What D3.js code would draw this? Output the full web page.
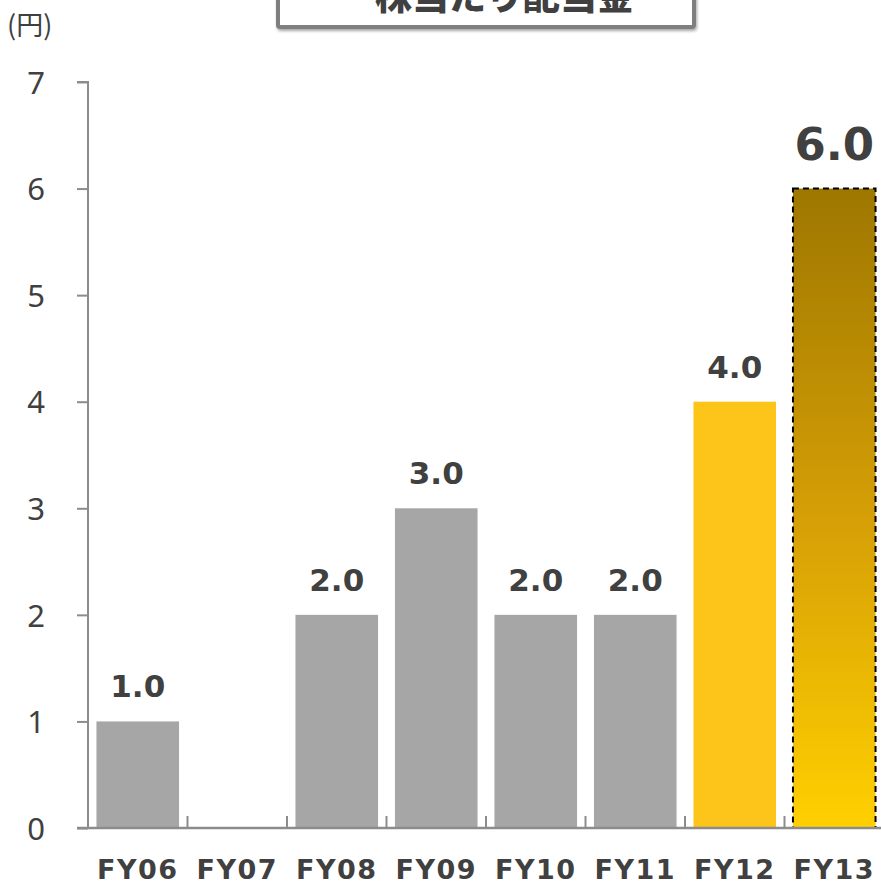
<!DOCTYPE html>
<html>
<head>
<meta charset="utf-8">
<script src="https://cdn.jsdelivr.net/npm/d3@7"></script>
<style>
  body { margin: 0; background: #fff; }
  svg { display: block; }
</style>
</head>
<body>
<div class="chart"></div>
<script>
const categories = ['FY06', 'FY07', 'FY08', 'FY09', 'FY10', 'FY11', 'FY12', 'FY13'];
const dividends = [1.0, 0, 2.0, 3.0, 2.0, 2.0, 4.0, 6.0];
const valueLabels = ['1.0', '', '2.0', '3.0', '2.0', '2.0', '4.0', '6.0'];
const yTicks = [0, 1, 2, 3, 4, 5, 6, 7];
const titleText = '一株当たり配当金';
const unitText = '(円)';

const width = 881;
const height = 885;
const margin = { top: 82, bottom: 57, left: 88, right: -3 };
const textColor = '#404040';
const axisColor = '#8c8c8c';

const svg = d3.select('.chart')
    .append('svg')
    .attr('width', width)
    .attr('height', height);

const defs = svg.append('defs');
const grad = defs.append('linearGradient')
    .attr('id', 'goldGrad')
    .attr('x1', 0).attr('y1', 0).attr('x2', 0).attr('y2', 1);
grad.append('stop').attr('offset', '0%').attr('stop-color', '#9e7700');
grad.append('stop').attr('offset', '55%').attr('stop-color', '#d9a206');
grad.append('stop').attr('offset', '100%').attr('stop-color', '#ffd000');

const shadow = defs.append('filter').attr('id', 'boxShadow')
    .attr('x', '-10%').attr('y', '-10%').attr('width', '120%').attr('height', '140%');
shadow.append('feDropShadow')
    .attr('dx', 1).attr('dy', 2).attr('stdDeviation', 1.5)
    .attr('flood-color', '#000').attr('flood-opacity', 0.35);

const xScale = d3.scaleBand()
    .domain(categories)
    .range([margin.left, width - margin.right])
    .paddingInner(0.17)
    .paddingOuter(0.085);

const yScale = d3.scaleLinear()
    .domain([0, 7])
    .range([height - margin.bottom, margin.top]);

// title box (clipped at the top, as in the original)
svg.append('rect')
    .attr('x', 278)
    .attr('y', -30)
    .attr('width', 416)
    .attr('height', 57)
    .attr('fill', '#fff')
    .attr('stroke', '#7f7f7f')
    .attr('stroke-width', 4)
    .attr('rx', 2)
    .attr('filter', 'url(#boxShadow)');

svg.append('text')
    .attr('x', 486)
    .attr('y', 10)
    .attr('text-anchor', 'middle')
    .attr('font-family', '"Noto Sans CJK JP", sans-serif')
    .attr('font-weight', 900)
    .attr('font-size', 37)
    .attr('fill', textColor)
    .text(titleText);

// unit label
svg.append('text')
    .attr('x', 7)
    .attr('y', 35)
    .attr('font-family', '"Noto Sans CJK JP", sans-serif')
    .attr('font-size', 27)
    .attr('fill', textColor)
    .text(unitText);

// bars
svg.selectAll('.bar')
    .data(dividends)
    .enter()
    .append('rect')
    .attr('class', 'bar')
    .attr('x', (d, i) => xScale(categories[i]))
    .attr('y', d => yScale(d))
    .attr('width', xScale.bandwidth())
    .attr('height', d => yScale(0) - yScale(d))
    .attr('fill', (d, i) => i === 7 ? 'url(#goldGrad)' : (i === 6 ? '#fdc419' : '#a6a6a6'))
    .attr('stroke', (d, i) => i === 7 ? '#000' : 'none')
    .attr('stroke-width', 2)
    .attr('stroke-dasharray', '6,4');

// y axis
const yAxis = svg.append('g')
    .attr('transform', `translate(${margin.left}, 0)`)
    .call(d3.axisLeft(yScale).tickValues(yTicks).tickSize(11).tickPadding(32).tickFormat(d3.format('d')));
yAxis.select('.domain').attr('stroke', axisColor).attr('stroke-width', 2)
    .attr('d', `M-11,${yScale(7)}H0V${yScale(0)}`);
yAxis.selectAll('.tick line').attr('stroke', axisColor).attr('stroke-width', 2);
yAxis.selectAll('.tick text')
    .attr('fill', textColor)
    .attr('font-family', '"Noto Sans", sans-serif')
    .attr('font-size', 31)
    .attr('dy', '0.36em');

// x axis
const xAxisG = svg.append('g')
    .attr('transform', `translate(0, ${yScale(0)})`);
xAxisG.append('line')
    .attr('x1', margin.left - 11)
    .attr('x2', width)
    .attr('stroke', axisColor)
    .attr('stroke-width', 2.5);
const step = xScale.step();
xAxisG.selectAll('.xtick')
    .data(categories)
    .enter()
    .append('line')
    .attr('class', 'xtick')
    .attr('x1', d => xScale(d) - step * 0.085)
    .attr('x2', d => xScale(d) - step * 0.085)
    .attr('y1', 0)
    .attr('y2', -12)
    .attr('stroke', axisColor)
    .attr('stroke-width', 2);

xAxisG.selectAll('.xlabel')
    .data(categories)
    .enter()
    .append('text')
    .attr('class', 'xlabel')
    .attr('x', d => xScale(d) + xScale.bandwidth() / 2)
    .attr('y', 51)
    .attr('text-anchor', 'middle')
    .attr('font-family', '"DejaVu Sans", sans-serif')
    .attr('font-weight', 'bold')
    .attr('font-size', 27)
    .attr('letter-spacing', 1.5)
    .attr('fill', textColor)
    .text(d => d);

// value labels
svg.selectAll('.vlabel')
    .data(dividends)
    .enter()
    .append('text')
    .attr('class', 'vlabel')
    .attr('x', (d, i) => xScale(categories[i]) + xScale.bandwidth() / 2)
    .attr('y', (d, i) => yScale(d) - (i === 7 ? 29 : 24))
    .attr('text-anchor', 'middle')
    .attr('font-family', '"DejaVu Sans", sans-serif')
    .attr('font-weight', 'bold')
    .attr('font-size', (d, i) => i === 7 ? 45 : 31)
    .attr('fill', textColor)
    .text((d, i) => valueLabels[i]);
</script>
</body>
</html>
